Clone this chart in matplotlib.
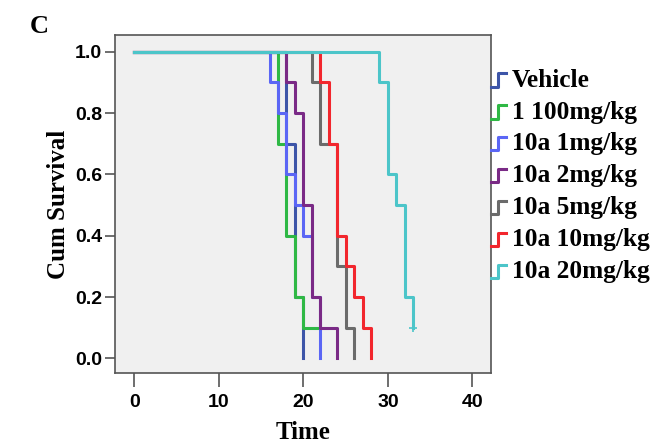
import matplotlib
matplotlib.use("Agg")
import matplotlib.pyplot as plt
from matplotlib.lines import Line2D
from matplotlib.legend_handler import HandlerBase

# step survival curves (time of step, survival after the step)
groups = ["Vehicle", "1 100mg/kg", "10a 1mg/kg", "10a 2mg/kg",
          "10a 5mg/kg", "10a 10mg/kg", "10a 20mg/kg"]
colors = ["#3d55a8", "#2fb845", "#5b66f5", "#7a2a86", "#6b6b6b", "#f2262d", "#4cc5c9"]

times = [
    [0, 18, 19, 20],
    [0, 17, 18, 19, 20, 22],
    [0, 16, 17, 18, 19, 20, 21, 22],
    [0, 18, 19, 20, 21, 22, 24],
    [0, 21, 22, 24, 25, 26],
    [0, 22, 23, 24, 25, 26, 27, 28],
    [0, 29, 30, 31, 32, 33],
]
surv = [
    [1.0, 0.7, 0.2, 0.0],
    [1.0, 0.7, 0.4, 0.2, 0.1, 0.1],
    [1.0, 0.9, 0.8, 0.6, 0.5, 0.4, 0.2, 0.0],
    [1.0, 0.9, 0.8, 0.5, 0.2, 0.1, 0.0],
    [1.0, 0.9, 0.7, 0.3, 0.1, 0.0],
    [1.0, 0.9, 0.7, 0.4, 0.3, 0.2, 0.1, 0.0],
    [1.0, 0.9, 0.6, 0.5, 0.2, 0.1],
]
censor_t = [33]
censor_s = [0.1]

xticks = [0, 10, 20, 30, 40]
yticks = [0.0, 0.2, 0.4, 0.6, 0.8, 1.0]


class StepHandler(HandlerBase):
    def create_artists(self, legend, orig_handle, xdescent, ydescent,
                       width, height, fontsize, trans):
        x0 = -xdescent
        y0 = -ydescent
        xs = [x0, x0 + width * 0.45, x0 + width * 0.45, x0 + width]
        ys = [y0 + height * 0.0, y0 + height * 0.0, y0 + height * 0.75, y0 + height * 0.75]
        ln = Line2D(xs, ys, color=orig_handle.get_color(), lw=2.2, transform=trans)
        return [ln]


fig = plt.figure(figsize=(6.56, 4.43), dpi=100)
ax = fig.add_axes([0.175, 0.158, 0.5735, 0.763])
ax.set_facecolor("#f0f0f0")

handles = []
for g, c, t, s in zip(groups, colors, times, surv):
    ln, = ax.step(t, s, where="post", color=c, lw=2.2, label=g)
    handles.append(ln)
ax.plot(censor_t, censor_s, "+", color=colors[-1], ms=6, mew=1.2)

ax.set_xlim(-2.3, 42.2)
ax.set_ylim(-0.048, 1.055)
ax.set_xticks(xticks)
ax.set_yticks(yticks)
ax.set_yticklabels(["%.1f" % v for v in yticks])

for sp in ax.spines.values():
    sp.set_color("#555555")
    sp.set_linewidth(1.2)

ax.tick_params(axis="both", direction="out", color="#555555", width=1.2,
               labelsize=14)
ax.tick_params(axis="y", length=7, pad=2)
ax.tick_params(axis="x", length=10, pad=5)
for lab in ax.get_xticklabels() + ax.get_yticklabels():
    lab.set_fontfamily("Liberation Sans")
    lab.set_fontweight("bold")

ax.set_xlabel("Time", fontfamily="Liberation Serif", fontweight="bold",
              fontsize=18, labelpad=7)
ax.set_ylabel("Cum Survival", fontfamily="Liberation Serif", fontweight="bold",
              fontsize=18, labelpad=4)

fig.text(0.045, 0.94, "C", fontfamily="Liberation Serif", fontweight="bold",
         fontsize=19, ha="left", va="center")

leg = fig.legend(handles, groups, loc="upper left",
                 bbox_to_anchor=(0.748, 0.845), frameon=False,
                 handler_map={Line2D: StepHandler()},
                 prop={"family": "Liberation Serif", "weight": "bold", "size": 18.3},
                 handlelength=0.6, handletextpad=0.22, labelspacing=0.35,
                 borderpad=0, borderaxespad=0)

fig.savefig("out.png", dpi=100)
